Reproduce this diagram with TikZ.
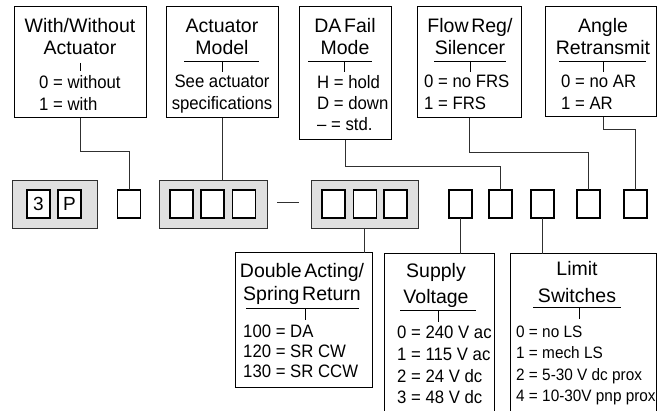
\documentclass[tikz,border=0pt]{standalone}
\usepackage{fontspec}
\setmainfont{Liberation Sans}
\newfontfamily\condfont[FakeStretch=0.93]{Liberation Sans}
\newfontfamily\ttlfont[WordSpace=0.5]{Liberation Sans}
\usetikzlibrary{calc}
\definecolor{gfill}{HTML}{E0E0E0}
\definecolor{lnc}{HTML}{303030}
\tikzset{
  box/.style={draw=black, line width=1pt, fill=white, inner sep=0, outer sep=0},
  gbox/.style={draw=lnc, line width=1pt, fill=gfill, inner sep=0, outer sep=0, minimum height=48pt},
  sbox/.style={draw=black, line width=1.3pt, fill=white, inner sep=0, outer sep=0, minimum width=23pt, minimum height=28pt, font=\fontsize{19}{20}\selectfont},
  conn/.style={draw=lnc, line width=1pt},
  ttl/.style={font=\ttlfont\fontsize{19.5}{22}\selectfont, inner sep=0, anchor=base},
  opt/.style={font=\condfont\fontsize{18}{20}\selectfont, inner sep=0, anchor=base west},
  optc/.style={font=\condfont\fontsize{18}{20}\selectfont, inner sep=0, anchor=base},
  optl/.style={font=\condfont\fontsize{16.5}{20}\selectfont, inner sep=0, anchor=base west},
  uline/.style={draw=black, line width=0.9pt},
}
\begin{document}
\begin{tikzpicture}[x=1pt,y=-1pt]
\clip (0,0) rectangle (663,411);
\fill[white] (0,0) rectangle (663,411);

% top boxes
\node[box, minimum width=132pt, minimum height=111pt] (b1) at (80,62.5) {};
\node[box, minimum width=112pt, minimum height=111pt] (b2) at (222,62.5) {};
\node[box, minimum width=92pt, minimum height=133pt] (b3) at (345,73.5) {};
\node[box, minimum width=104pt, minimum height=111pt] (b4) at (469,62.5) {};
\node[box, minimum width=111pt, minimum height=110pt] (b5) at (600.5,62) {};

% box 1
\node[ttl] (t1a) at (80,33) {With/Without};
\node[ttl] (t1b) at (80,55) {Actuator};
\coordinate (k1a) at (80,63); \coordinate (k1b) at (80,71);
\draw[uline] (k1a) -- (k1b);
\node[opt] (o1a) at (39,89) {0 = without};
\node[opt] (o1b) at (39,111) {1 = with};

% box 2
\node[ttl] (t2a) at (222,33) {Actuator};
\node[ttl] (t2b) at (222,55) {Model};
\coordinate (u2a) at (184,61); \coordinate (u2b) at (259,61);
\draw[uline] (u2a) -- (u2b);
\coordinate (k2b) at (222,72);
\draw[uline] (222,61) -- (k2b);
\node[optc] (o2a) at (222,88) {See actuator};
\node[optc] (o2b) at (222,110) {specifications};

% box 3
\node[ttl] (t3a) at (345,33) {DA Fail};
\node[ttl] (t3b) at (345,55) {Mode};
\coordinate (u3a) at (308,61); \coordinate (u3b) at (372,61);
\draw[uline] (u3a) -- (u3b);
\coordinate (k3b) at (344,72);
\draw[uline] (344,61) -- (k3b);
\node[opt] (o3a) at (317,89) {H = hold};
\node[opt] (o3b) at (317,110) {D = down};
\node[opt] (o3c) at (317,131) {– = std.};

% box 4
\node[ttl] (t4a) at (470,33) {Flow Reg/};
\node[ttl] (t4b) at (470,55) {Silencer};
\coordinate (u4a) at (434,61); \coordinate (u4b) at (506,61);
\draw[uline] (u4a) -- (u4b);
\coordinate (k4b) at (470,72);
\draw[uline] (470,61) -- (k4b);
\node[opt] (o4a) at (424,88) {0 = no FRS};
\node[opt] (o4b) at (424,110) {1 = FRS};

% box 5
\node[ttl] (t5a) at (603,33) {Angle};
\node[ttl] (t5b) at (603,55) {Retransmit};
\coordinate (u5a) at (559,61); \coordinate (u5b) at (646,61);
\draw[uline] (u5a) -- (u5b);
\coordinate (k5b) at (603,72);
\draw[uline] (603,61) -- (k5b);
\node[opt] (o5a) at (561,88) {0 = no AR};
\node[opt] (o5b) at (561,110) {1 = AR};

% middle row
\node[gbox, minimum width=85pt] (g1) at (54.5,205) {};
\node[sbox] (g1a) at (38.5,204) {3};
\node[sbox] (g1b) at (69.5,204) {P};
\node[sbox] (sA) at (129,204) {};
\node[gbox, minimum width=108pt] (g2) at (213,205) {};
\node[sbox] (g2a) at (181.5,204) {};
\node[sbox] (g2b) at (212.5,204) {};
\node[sbox] (g2c) at (244,204) {};
\coordinate (d1) at (277,203); \coordinate (d2) at (299,203);
\draw[conn] (d1) -- (d2);
\node[gbox, minimum width=107pt] (g3) at (364.5,205) {};
\node[sbox] (g3a) at (333.5,204) {};
\node[sbox] (g3b) at (365,204) {};
\node[sbox] (g3c) at (395.5,204) {};
\node[sbox] (s1) at (460.5,204) {};
\node[sbox] (s2) at (500.5,204) {};
\node[sbox] (s3) at (542.5,204) {};
\node[sbox] (s4) at (588.5,204) {};
\node[sbox] (s5) at (635.5,204) {};

% bottom boxes
\node[box, minimum width=137pt, minimum height=134pt] (da) at (303.5,320) {};
\node[box, minimum width=110pt, minimum height=166pt] (sv) at (439,337) {};
\node[box, minimum width=146pt, minimum height=166pt] (ls) at (583,337) {};

% double acting
\node[ttl] (t6a) at (302,278) {Double Acting/};
\node[ttl] (t6b) at (302,300) {Spring Return};
\coordinate (u6a) at (246,308); \coordinate (u6b) at (359,308);
\draw[uline] (u6a) -- (u6b);
\coordinate (k6b) at (305,320);
\draw[uline] (305,308) -- (k6b);
\node[opt] (o6a) at (243,337) {100 = DA};
\node[opt] (o6b) at (243,357) {120 = SR CW};
\node[opt] (o6c) at (243,377) {130 = SR CCW};

% supply voltage
\node[ttl] (t7a) at (436,277) {Supply};
\node[ttl] (t7b) at (436,303) {Voltage};
\coordinate (u7a) at (400,310); \coordinate (u7b) at (476,310);
\draw[uline] (u7a) -- (u7b);
\coordinate (k7b) at (438,322);
\draw[uline] (438,310) -- (k7b);
\node[opt] (o7a) at (397,338) {0 = 240 V ac};
\node[opt] (o7b) at (397,360) {1 = 115 V ac};
\node[opt] (o7c) at (397,382) {2 = 24 V dc};
\node[opt] (o7d) at (397,403) {3 = 48 V dc};

% limit switches
\node[ttl] (t8a) at (577,276) {Limit};
\node[ttl] (t8b) at (577,302) {Switches};
\coordinate (u8a) at (533,307); \coordinate (u8b) at (621,307);
\draw[uline] (u8a) -- (u8b);
\coordinate (k8b) at (579,319);
\draw[uline] (579,307) -- (k8b);
\node[optl] (o8a) at (516,337) {0 = no LS};
\node[optl] (o8b) at (516,358) {1 = mech LS};
\node[optl] (o8c) at (516,380) {2 = 5-30 V dc prox};
\node[optl] (o8d) at (516,401) {4 = 10-30V pnp prox};

% connectors
\draw[conn] (b1.south) -- ++(0,34) -| (sA.north);
\draw[conn] (b2.south) -- (b2.south |- g2.north);
\draw[conn] (b3.south) -- ++(0,27) -| (s2.north);
\draw[conn] (b4.south) -- ++(0,35) -| (s4.north);
\draw[conn] ([xshift=2.5pt]b5.south) -- ++(0,13) -| (s5.north);
\draw[conn] (g3.south) -- (g3.south |- da.north);
\draw[conn] (s1.south) -- (s1.south |- sv.north);
\draw[conn] (s3.south) -- (s3.south |- ls.north);
\end{tikzpicture}
\end{document}
